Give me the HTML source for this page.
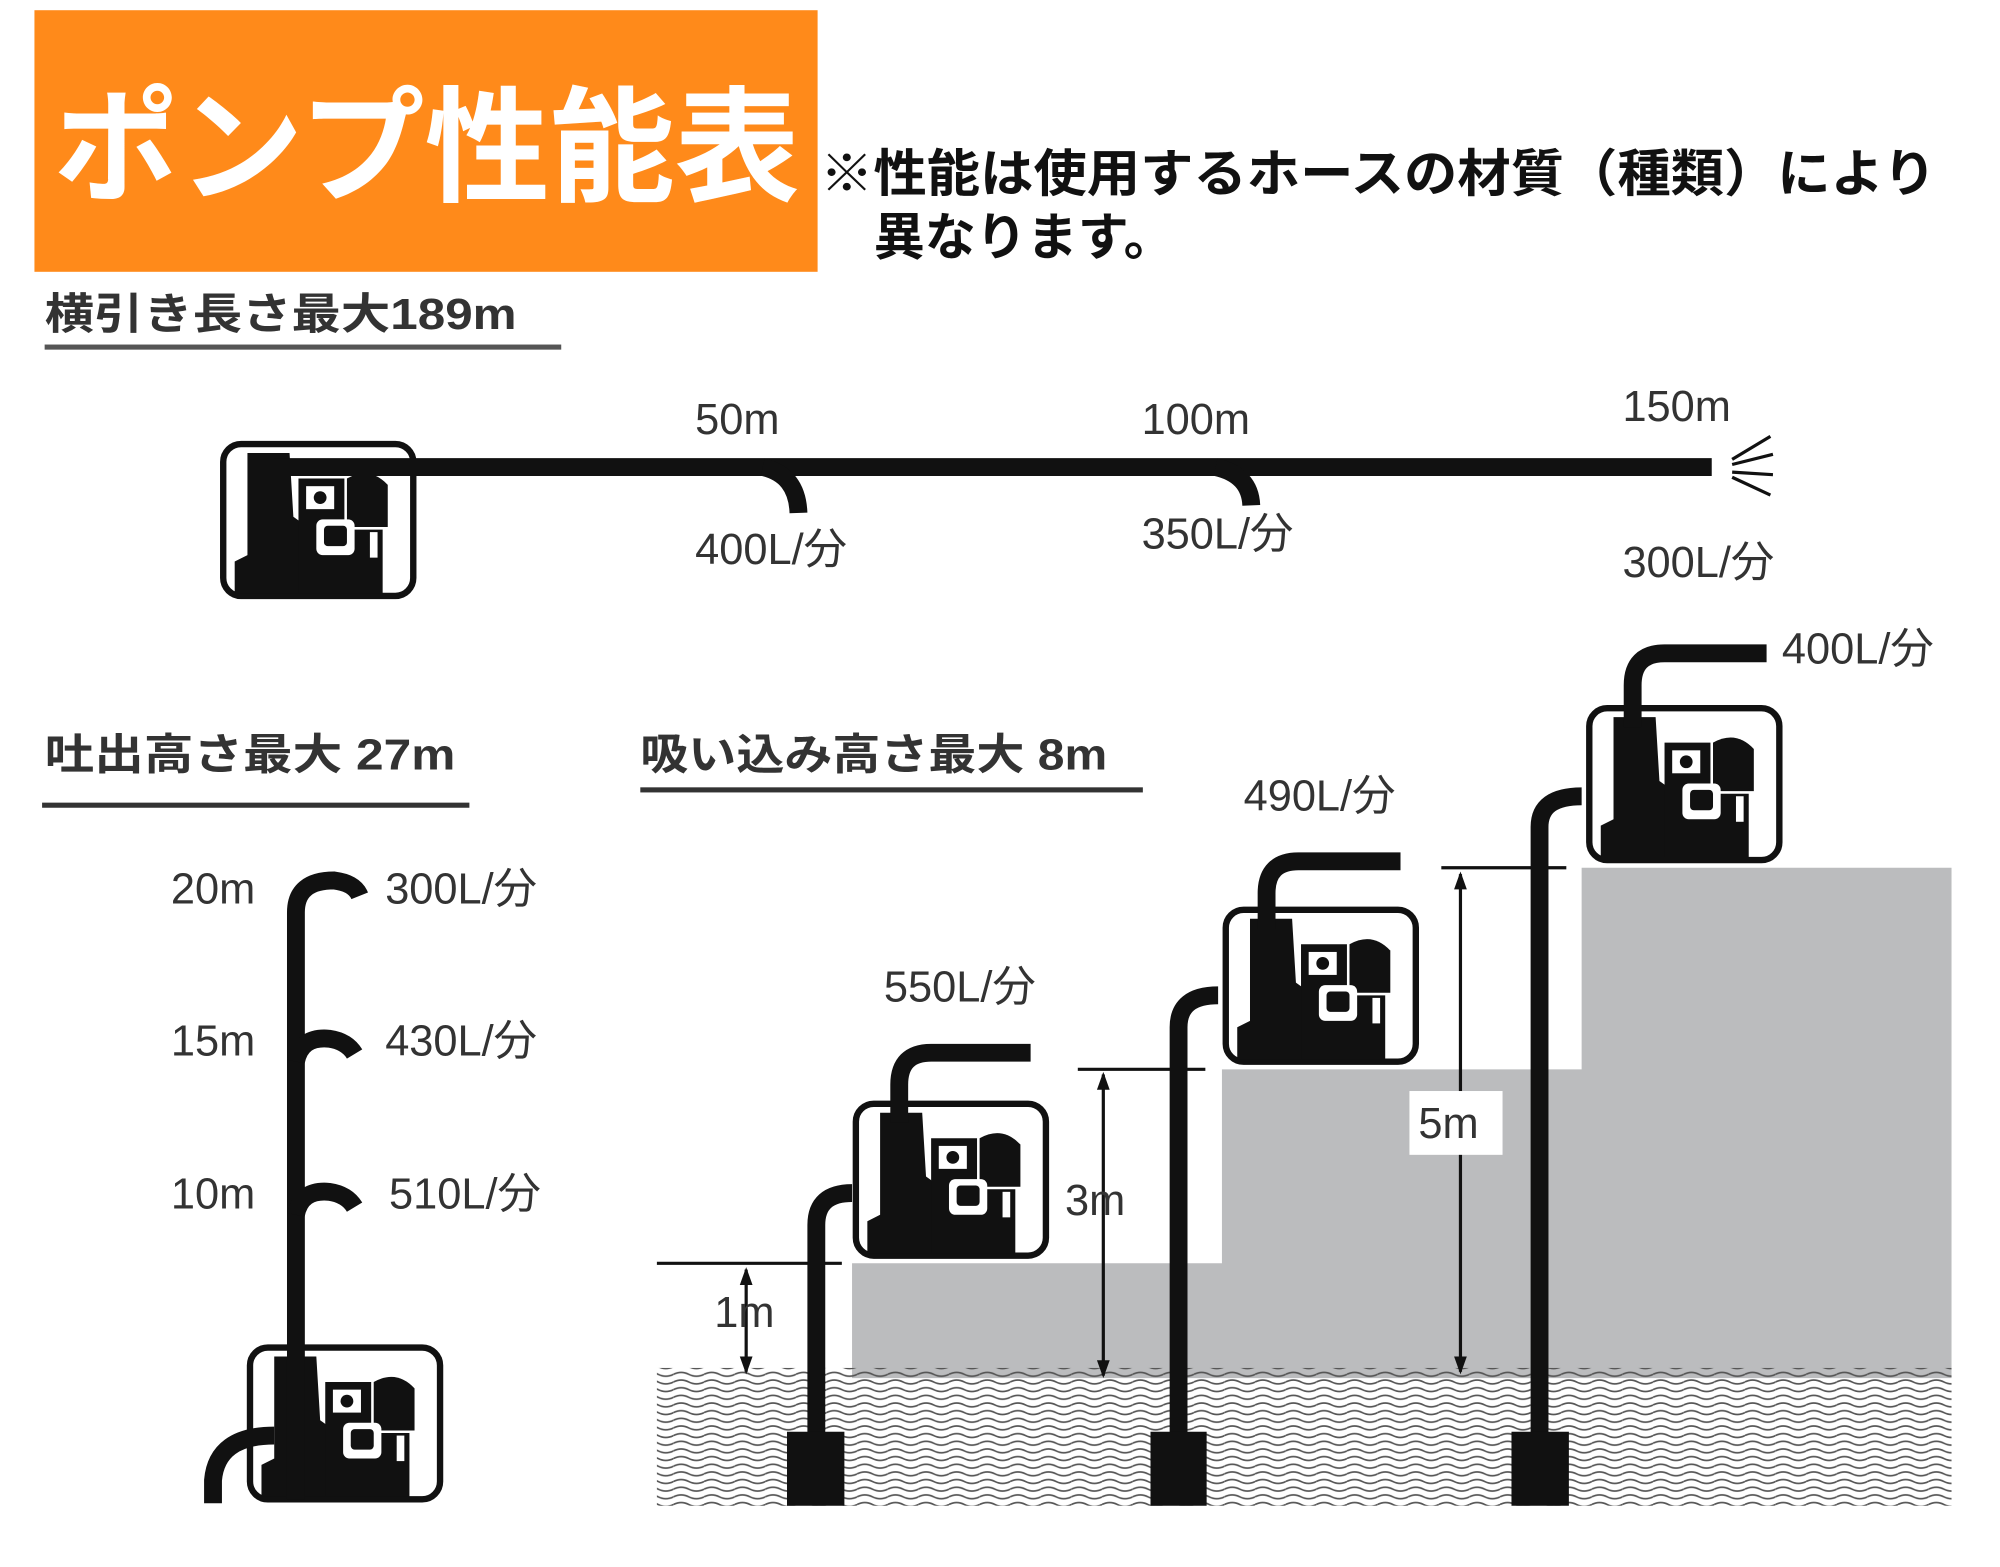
<!DOCTYPE html>
<html><head><meta charset="utf-8"><style>
html,body{margin:0;padding:0;background:#fff;}
svg{display:block}
text{font-family:"Liberation Sans","Noto Sans CJK JP",sans-serif;}
</style></head><body>
<svg width="2000" height="1567" viewBox="0 0 1568 1228" preserveAspectRatio="none" xmlns="http://www.w3.org/2000/svg">
<defs>
<pattern id="wv" x="0" y="0" width="24" height="6" patternUnits="userSpaceOnUse">
<path d="M0 3 Q6 0 12 3 T24 3" fill="none" stroke="#555" stroke-width="1.3"/>
</pattern>
<g id="pump">
<rect x="3" y="3" width="149" height="119" rx="14" fill="#fff" stroke="#111" stroke-width="5"/>
<path d="M22 10 L55 10 L58 60 L72 70 L68 120 L12 120 L12 95 L22 90 Z" fill="#111"/>
<path d="M62 30 L98 30 L98 70 L128 70 L128 120 L62 120 Z" fill="#111"/>
<path d="M100 30 Q118 20 132 35 L132 68 L100 68 Z" fill="#111"/>
<rect x="68" y="36" width="22" height="18" fill="#fff"/><circle cx="79" cy="45" r="5" fill="#111"/>
<rect x="76" y="62" width="30" height="28" rx="5" fill="#fff"/><rect x="82" y="67" width="18" height="16" rx="3" fill="#111"/>
<rect x="118" y="72" width="6" height="20" fill="#fff"/>
</g>
</defs>

<rect x="27" y="8" width="614" height="205" fill="#FF8A1A"/>
<text x="42" y="150" font-size="98" font-weight="bold" fill="#fff" textLength="585" lengthAdjust="spacingAndGlyphs">ポンプ性能表</text>
<text x="643" y="150" font-size="40" font-weight="bold" fill="#111" textLength="875" lengthAdjust="spacingAndGlyphs">※性能は使用するホースの材質（種類）により</text>
<text x="685" y="200" font-size="40" font-weight="bold" fill="#111">異なります。</text>

<text x="35" y="258" font-size="34" font-weight="bold" fill="#333" textLength="370" lengthAdjust="spacingAndGlyphs">横引き長さ最大189m</text>
<rect x="35" y="270" width="405" height="4" fill="#555"/>
<use href="#pump" transform="translate(172,345)"/>
<g fill="none" stroke="#111" stroke-width="14">
<path d="M215 366 H1342"/>
<path d="M598 366 Q625 372 626 402"/>
<path d="M953 366 Q980 372 981 396"/>
</g>
<g stroke="#111" stroke-width="2.5" fill="none">
<path d="M1358 360 L1388 342"/><path d="M1358 364 L1390 356"/><path d="M1358 370 L1390 372"/><path d="M1358 374 L1388 388"/>
</g>
<g font-size="34" fill="#333">
<text x="545" y="340">50m</text>
<text x="895" y="340">100m</text>
<text x="1272" y="330">150m</text>
<text x="545" y="442">400L/分</text>
<text x="895" y="430">350L/分</text>
<text x="1272" y="452">300L/分</text>
</g>

<text x="35" y="603" font-size="34" font-weight="bold" fill="#333" textLength="322" lengthAdjust="spacingAndGlyphs">吐出高さ最大 27m</text>
<rect x="33" y="629" width="335" height="4" fill="#333"/>
<use href="#pump" transform="translate(193,1053)"/>
<g fill="none" stroke="#111" stroke-width="14">
<path d="M232 1175 V715 Q232 690 262 690 Q278 692 282 702"/>
<path d="M232 832 Q236 812 258 814 Q272 816 278 826"/>
<path d="M232 952 Q236 932 258 934 Q272 936 278 946"/>
<path d="M167 1178 V1160 Q170 1125 215 1125"/>
</g>
<g font-size="34" fill="#333">
<text x="134" y="708">20m</text>
<text x="134" y="827">15m</text>
<text x="134" y="947">10m</text>
<text x="302" y="708">300L/分</text>
<text x="302" y="827">430L/分</text>
<text x="305" y="947">510L/分</text>
</g>

<text x="502" y="603" font-size="34" font-weight="bold" fill="#333" textLength="366" lengthAdjust="spacingAndGlyphs">吸い込み高さ最大 8m</text>
<rect x="502" y="617" width="394" height="4" fill="#333"/>
<path d="M668 1080 V990 H958 V838 H1240 V680 H1530 V1080 Z" fill="#bbbcbe"/>
<rect x="515" y="1072" width="1015" height="108" fill="url(#wv)"/>
<g stroke="#111" stroke-width="2.5">
<path d="M515 990 H660"/><path d="M845 838 H945"/><path d="M1130 680 H1228"/>
<path d="M585 995 V1075"/><path d="M865 842 V1078"/><path d="M1145 685 V1075"/>
</g>
<g fill="#111">
<path d="M585 993 l-5 14 h10z"/><path d="M585 1077 l-5 -14 h10z"/>
<path d="M865 840 l-5 14 h10z"/><path d="M865 1080 l-5 -14 h10z"/>
<path d="M1145 683 l-5 14 h10z"/><path d="M1145 1077 l-5 -14 h10z"/>
</g>
<rect x="1105" y="855" width="73" height="50" fill="#fff"/>
<use href="#pump" transform="translate(668,862)"/>
<use href="#pump" transform="translate(958,710)"/>
<use href="#pump" transform="translate(1243,552)"/>
<g fill="none" stroke="#111" stroke-width="14">
<path d="M640 1125 V960 Q640 935 668 935"/>
<path d="M924 1125 V805 Q924 780 955 780"/>
<path d="M1207 1125 V648 Q1207 624 1240 624"/>
<path d="M705 880 V850 Q705 825 730 825 H808"/>
<path d="M993 728 V700 Q993 675 1018 675 H1098"/>
<path d="M1280 570 V537 Q1280 512 1305 512 H1385"/>
</g>
<rect x="617" y="1122" width="45" height="58" fill="#111"/>
<rect x="902" y="1122" width="44" height="58" fill="#111"/>
<rect x="1185" y="1122" width="45" height="58" fill="#111"/>
<g font-size="34" fill="#333">
<text x="693" y="785">550L/分</text>
<text x="975" y="635">490L/分</text>
<text x="1397" y="520">400L/分</text>
<text x="835" y="952">3m</text>
<text x="560" y="1040">1m</text>
<text x="1112" y="892">5m</text>
</g>
</svg>
</body></html>
